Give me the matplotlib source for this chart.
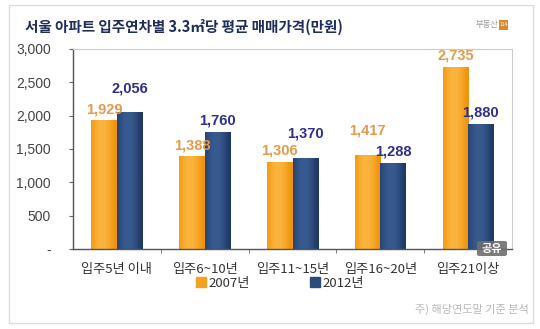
import numpy as np
import matplotlib.pyplot as plt
from matplotlib.patches import Rectangle, FancyBboxPatch
from matplotlib.colors import LinearSegmentedColormap
from matplotlib.ticker import FixedLocator, FuncFormatter

plt.rcParams['font.family'] = ['Noto Sans CJK KR', 'DejaVu Sans']

# 입주연차별 3.3㎡당 평균 매매가격 (만원)
categories = ['입주5년 이내', '입주6~10년', '입주11~15년', '입주16~20년', '입주21이상']
price_2007 = [1929, 1388, 1306, 1417, 2735]
price_2012 = [2056, 1760, 1370, 1288, 1880]
series_names = ['2007년', '2012년']
y_ticks = [0, 500, 1000, 1500, 2000, 2500, 3000]

orange = '#F5A31F'
navy = '#2C4A7C'
label_orange = '#E39A4C'
label_navy = '#2F2F8E'

W, H = 540, 329
fig = plt.figure(figsize=(W / 100, H / 100), dpi=100)
fig.patch.set_facecolor('white')

# 바깥 패널 테두리
fig.patches.append(Rectangle((9 / W, 1 - 323 / H), (533 - 9) / W, (323 - 5) / H,
                             transform=fig.transFigure, fill=False,
                             edgecolor='#DCDCDC', linewidth=1.0))

ax = fig.add_axes([73 / W, 1 - 249 / H, (512 - 73) / W, (249 - 49) / H])

x = np.arange(len(categories))
bw = 0.29


def shaded_bar(ax, xs, vals, base, dark, light):
    bars = ax.bar(xs, vals, bw, color=base, zorder=2)
    # 막대 안쪽 원통형 그라데이션
    grad = np.linspace(-1, 1, 64)
    shade = 1 - np.abs(grad + 0.15) ** 2
    cmap = LinearSegmentedColormap.from_list('c', [dark, base, light])
    for b in bars:
        im = ax.imshow(shade[np.newaxis, :], cmap=cmap, aspect='auto', vmin=0, vmax=1.1,
                       extent=[b.get_x(), b.get_x() + b.get_width(), 0, b.get_height()],
                       zorder=2.5, interpolation='bilinear')
        im.set_clip_path(b)
    return bars


b1 = shaded_bar(ax, x - 0.145, price_2007, orange, '#EE9412', '#FBB845')
b2 = shaded_bar(ax, x + 0.145, price_2012, navy, '#203A66', '#3A5E93')

# 값 라벨: 두 막대 높이가 비슷하면 높은 쪽 라벨을 더 올림
px_per_unit = 200 / 3000
for i in range(len(categories)):
    v1, v2 = price_2007[i], price_2012[i]
    lo_off, hi_off = 3, 3
    if abs(v1 - v2) * px_per_unit < 16:
        hi_off = 12
    off1 = hi_off if v1 > v2 else lo_off
    off2 = hi_off if v2 > v1 else lo_off
    for b, v, off, c in [(b1[i], v1, off1, label_orange), (b2[i], v2, off2, label_navy)]:
        ax.annotate(f'{v:,}', (b.get_x() + b.get_width() / 2, v), xytext=(0, off),
                    textcoords='offset points', ha='center', va='bottom',
                    fontsize=10.5, color=c, fontweight='bold', family='Liberation Sans',
                    annotation_clip=False)

ax.set_xlim(-0.5, len(categories) - 0.5)
ax.set_ylim(0, 3000)
ax.set_xticks(x)
ax.set_xticklabels(categories, fontsize=9.5, color='#333333')
ax.tick_params(axis='x', length=0, pad=10)
ax.xaxis.set_minor_locator(FixedLocator(x[:-1] + 0.5))
ax.tick_params(axis='x', which='minor', length=3, color='#666666', direction='out')
ax.yaxis.set_major_locator(FixedLocator(y_ticks))
ax.yaxis.set_major_formatter(FuncFormatter(lambda v, p: '-' if v == 0 else f'{int(v):,}'))
ax.tick_params(axis='y', length=3, color='#666666', labelsize=10, labelcolor='#444444', pad=13)
for lbl in ax.get_yticklabels():
    lbl.set_family('Liberation Sans')

for side in ['left', 'bottom']:
    ax.spines[side].set_color('#555555')
    ax.spines[side].set_linewidth(1.0)
for side in ['top', 'right']:
    ax.spines[side].set_color('#CCCCCC')
    ax.spines[side].set_linewidth(0.8)

# 범례
handles = [Rectangle((0, 0), 1, 1, color=orange), Rectangle((0, 0), 1, 1, color=navy)]
fig.legend(handles, series_names, loc='center', bbox_to_anchor=(280 / W, 1 - 283 / H),
           ncol=2, frameon=False, fontsize=9.5, handlelength=0.7, handleheight=0.7,
           handletextpad=0.2, columnspacing=4.6, labelcolor='#333333')

# 제목과 로고
fig.text(25 / W, 1 - 27 / H, '서울 아파트 입주연차별 3.3㎡당 평균 매매가격(만원)',
         fontsize=10.5, fontweight='bold', color='#1E2D5A', va='center', ha='left')
fig.text(498 / W, 1 - 25 / H, '부동산', fontsize=6, color='#9A9A9A', va='center', ha='right')
fig.patches.append(Rectangle((499 / W, 1 - 30 / H), 9 / W, 10 / H, transform=fig.transFigure,
                             facecolor='#D98A2E', edgecolor='none'))
fig.text(503.5 / W, 1 - 25 / H, '114', fontsize=3.5, color='white', va='center', ha='center')

# 공유 버튼
fig.patches.append(FancyBboxPatch((477 / W, 1 - 256 / H), 30 / W, 15 / H,
                                  boxstyle='round,pad=0,rounding_size=0.005',
                                  transform=fig.transFigure, facecolor='#6E6E6E',
                                  edgecolor='none', alpha=0.9, zorder=5))
fig.text(492 / W, 1 - 248.5 / H, '공유', fontsize=8, color='white', fontweight='bold',
         va='center', ha='center', zorder=6)

# 주석
fig.text(529 / W, 1 - 309 / H, '주) 해당연도말 기준 분석', fontsize=8, color='#B8B8B8',
         va='center', ha='right')

fig.savefig('out.png', dpi=100, facecolor='white')
